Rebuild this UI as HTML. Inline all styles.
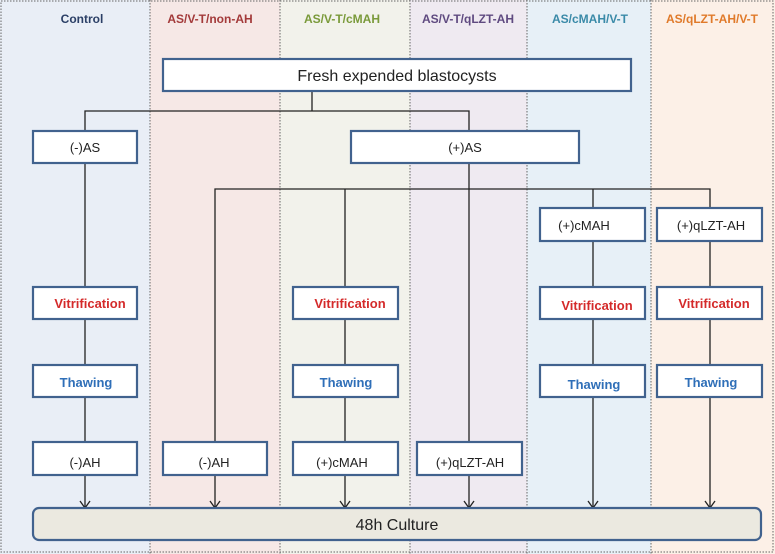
<!DOCTYPE html>
<html><head><meta charset="utf-8"><style>
html,body{margin:0;padding:0;background:#fff}
svg{display:block}
text{font-family:"Liberation Sans",sans-serif}
</style></head><body>
<svg width="775" height="554" viewBox="0 0 775 554" xmlns="http://www.w3.org/2000/svg">
<rect x="0" y="0" width="150" height="554" fill="#e9eef6"/>
<rect x="150" y="0" width="130" height="554" fill="#f6e8e6"/>
<rect x="280" y="0" width="130" height="554" fill="#f2f2eb"/>
<rect x="410" y="0" width="117" height="554" fill="#efeaf1"/>
<rect x="527" y="0" width="124" height="554" fill="#e7f0f7"/>
<rect x="651" y="0" width="124" height="554" fill="#fcf0e7"/>
<g stroke="#666" stroke-width="1" stroke-dasharray="1.5,1.5" fill="none">
<rect x="1" y="1" width="772" height="551"/>
<line x1="150" y1="0" x2="150" y2="554"/>
<line x1="280" y1="0" x2="280" y2="554"/>
<line x1="410" y1="0" x2="410" y2="554"/>
<line x1="527" y1="0" x2="527" y2="554"/>
<line x1="651" y1="0" x2="651" y2="554"/>
</g>
<g font-size="12" font-weight="bold" text-anchor="middle">
<text x="82" y="23" fill="#2b3f66">Control</text>
<text x="210" y="23" fill="#a33a3a">AS/V-T/non-AH</text>
<text x="342" y="23" fill="#7a9a3a">AS/V-T/cMAH</text>
<text x="468" y="23" fill="#5f4a80">AS/V-T/qLZT-AH</text>
<text x="590" y="23" fill="#3a8aa8">AS/cMAH/V-T</text>
<text x="712" y="23" fill="#e07a2a">AS/qLZT-AH/V-T</text>
</g>
<g stroke="#222" stroke-width="1.3" fill="none">
<path d="M312 91V111M85 130V111H469V131"/>
<path d="M469 163V189M215 508V189H710V208M345 189V508M469 189V508M593 189V508M710 189V508"/>
<path d="M85 163V508"/>
<path d="M80 501L85 508L90 501M210 501L215 508L220 501M340 501L345 508L350 501M464 501L469 508L474 501M588 501L593 508L598 501M705 501L710 508L715 501"/>
</g>
<g fill="#fff" stroke="#41628e" stroke-width="2.2">
<rect x="163" y="59" width="468" height="32"/>
<rect x="33" y="131" width="104" height="32"/>
<rect x="351" y="131" width="228" height="32"/>
<rect x="540" y="208" width="105" height="33"/>
<rect x="657" y="208" width="105" height="33"/>
<rect x="33" y="287" width="104" height="32"/>
<rect x="293" y="287" width="105" height="32"/>
<rect x="540" y="287" width="105" height="32"/>
<rect x="657" y="287" width="105" height="32"/>
<rect x="33" y="365" width="104" height="32"/>
<rect x="293" y="365" width="105" height="32"/>
<rect x="540" y="365" width="105" height="32"/>
<rect x="657" y="365" width="105" height="32"/>
<rect x="33" y="442" width="104" height="33"/>
<rect x="163" y="442" width="104" height="33"/>
<rect x="293" y="442" width="105" height="33"/>
<rect x="417" y="442" width="105" height="33"/>
<rect x="33" y="508" width="728" height="32" rx="6" fill="#ebe9e0"/>
</g>
<g font-size="13" fill="#222" text-anchor="middle">
<text x="397" y="81" font-size="16">Fresh expended blastocysts</text>
<text x="85" y="152">(-)AS</text>
<text x="465" y="152">(+)AS</text>
<text x="584" y="230">(+)cMAH</text>
<text x="711" y="230">(+)qLZT-AH</text>
<text x="85" y="467">(-)AH</text>
<text x="214" y="467">(-)AH</text>
<text x="342" y="467">(+)cMAH</text>
<text x="470" y="467">(+)qLZT-AH</text>
<text x="397" y="530" font-size="16">48h Culture</text>
</g>
<g font-size="13" font-weight="bold" text-anchor="middle">
<text x="90" y="308" fill="#d42a2a">Vitrification</text>
<text x="350" y="308" fill="#d42a2a">Vitrification</text>
<text x="597" y="310" fill="#d42a2a">Vitrification</text>
<text x="714" y="308" fill="#d42a2a">Vitrification</text>
<text x="86" y="387" fill="#2f6fb8">Thawing</text>
<text x="346" y="387" fill="#2f6fb8">Thawing</text>
<text x="594" y="389" fill="#2f6fb8">Thawing</text>
<text x="711" y="387" fill="#2f6fb8">Thawing</text>
</g>
</svg>
</body></html>
